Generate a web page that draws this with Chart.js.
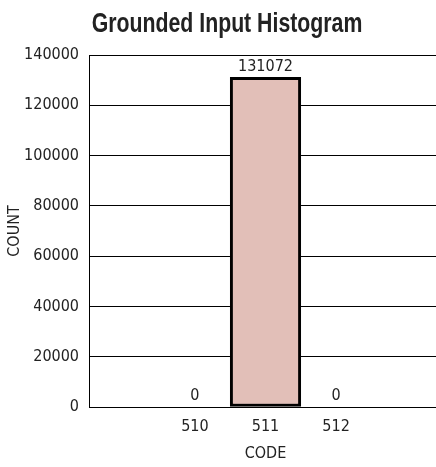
<!DOCTYPE html>
<html>
<head>
<meta charset="utf-8">
<script src="https://cdn.jsdelivr.net/npm/chart.js@4"></script>
<style>
  html, body { margin: 0; padding: 0; background: #fff; overflow: hidden; }
  canvas { display: block; }
</style>
</head>
<body>
<canvas id="myChart" width="450" height="467"></canvas>
<script>
// histogram data
const codes = ["510", "511", "512"];
const counts = [0, 131072, 0];
const yTicks = [0, 20000, 40000, 60000, 80000, 100000, 120000, 140000];
const titleText = "Grounded Input Histogram";

// one empty slot each side so the bars sit in the middle of the axis
const labels = [""].concat(codes, [""]);
const values = [null].concat(counts, [null]);

const fam = "'DejaVu Sans Condensed', 'Liberation Sans', sans-serif";
Chart.defaults.font.family = fam;
Chart.defaults.color = "#222";

// value printed over each bar
const barLabels = {
    id: "barLabels",
    afterDatasetsDraw(chart) {
        const ctx = chart.ctx;
        const meta = chart.getDatasetMeta(0);
        ctx.save();
        ctx.font = "16px " + fam;
        ctx.fillStyle = "#222";
        ctx.textAlign = "center";
        ctx.textBaseline = "bottom";
        meta.data.forEach((bar, i) => {
            const v = values[i];
            if (v === null) return;
            ctx.fillText(String(v), bar.x, bar.y - 3);
        });
        ctx.restore();
    }
};

// condensed bold title (squeezed horizontally like the original)
const condensedTitle = {
    id: "condensedTitle",
    afterDraw(chart) {
        const ctx = chart.ctx;
        ctx.save();
        ctx.translate(227, 32);
        ctx.scale(0.76, 1);
        ctx.font = "bold 28px 'Liberation Sans', Arial, sans-serif";
        ctx.fillStyle = "#222";
        ctx.textAlign = "center";
        ctx.textBaseline = "alphabetic";
        ctx.fillText(titleText, 0, 0);
        ctx.restore();
    }
};

new Chart(document.getElementById("myChart"), {
    type: "bar",
    data: {
        labels: labels,
        datasets: [{
            data: values,
            backgroundColor: "#e2bfb8",
            borderColor: "#000",
            borderWidth: 3,
            borderSkipped: false,
            categoryPercentage: 1,
            barPercentage: 1
        }]
    },
    plugins: [barLabels, condensedTitle],
    options: {
        responsive: false,
        animation: false,
        devicePixelRatio: 1,
        layout: { padding: { left: 0, right: 8, top: 55, bottom: 0 } },
        plugins: {
            legend: { display: false },
            tooltip: { enabled: false },
            title: { display: false }
        },
        scales: {
            x: {
                grid: { display: false, drawTicks: false },
                border: { color: "#000", width: 1 },
                ticks: { font: { size: 16 }, padding: 10, color: "#222" },
                title: { display: true, text: "CODE", font: { size: 16 }, padding: { top: 2, bottom: 4 }, color: "#222" },
                afterFit(s) { s.height = 60; }
            },
            y: {
                min: 0,
                max: 140000,
                afterBuildTicks(s) { s.ticks = yTicks.map(v => ({ value: v })); },
                grid: { color: "#000", lineWidth: 1, drawTicks: false },
                border: { color: "#000", width: 1 },
                ticks: { font: { size: 16 }, padding: 10, color: "#222", callback: v => String(v) },
                title: { display: true, text: "COUNT", font: { size: 16 }, padding: { top: 5, bottom: 0 }, color: "#222" },
                afterFit(s) { s.width = 89; }
            }
        }
    }
});
</script>
</body>
</html>
